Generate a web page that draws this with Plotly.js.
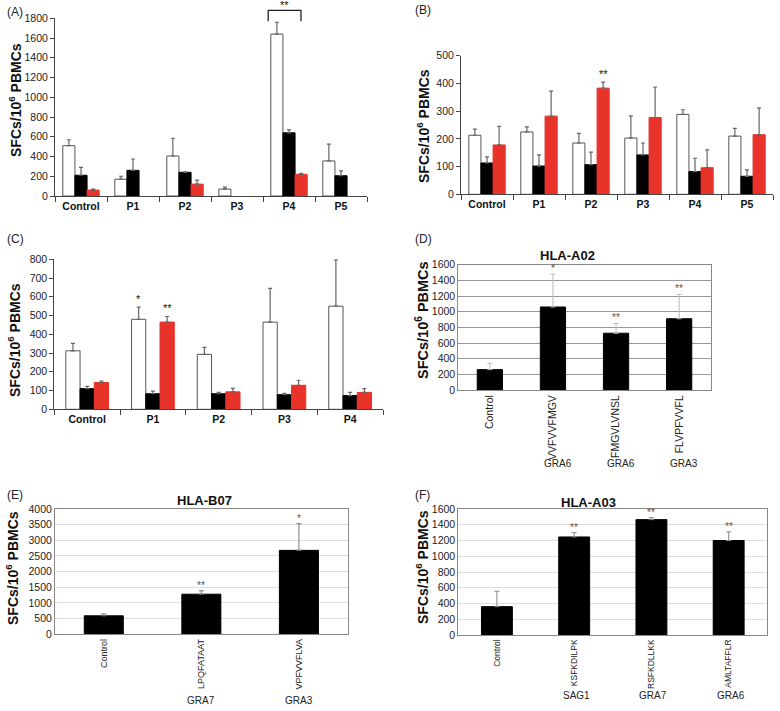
<!DOCTYPE html>
<html>
<head>
<meta charset="utf-8">
<script src="https://cdn.plot.ly/plotly-3.0.1.min.js"></script>
<style>html,body{margin:0;padding:0;background:#fff}#chart{width:780px;height:711px}</style>
</head>
<body>
<div id="chart"></div>
<script>
// ---------- DATA ----------
const catsA = ['Control', 'P1', 'P2', 'P3', 'P4', 'P5'];
const whiteA = [510, 170, 405, 70, 1640, 355];
const whiteAErr = [60, 30, 180, 20, 120, 170];
const blackA = [210, 260, 240, null, 640, 205];
const blackAErr = [80, 115, 5, null, 30, 50];
const redA = [60, null, 120, null, 220, null];
const redAErr = [10, null, 40, null, 10, null];

const catsB = ['Control', 'P1', 'P2', 'P3', 'P4', 'P5'];
const whiteB = [213, 225, 185, 203, 288, 210];
const whiteBErr = [22, 18, 35, 80, 17, 28];
const blackB = [113, 102, 107, 142, 82, 65];
const blackBErr = [22, 40, 45, 43, 48, 23];
const redB = [178, 282, 383, 277, 96, 215];
const redBErr = [67, 90, 22, 110, 64, 97];
const starsBRed = ['', '', '**', '', '', ''];

const catsC = ['Control', 'P1', 'P2', 'P3', 'P4'];
const whiteC = [312, 480, 293, 465, 550];
const whiteCErr = [40, 65, 37, 180, 247];
const blackC = [110, 83, 83, 78, 73];
const blackCErr = [12, 14, 7, 7, 17];
const redC = [143, 465, 93, 128, 90];
const redCErr = [7, 30, 19, 27, 20];
const starsCWhite = ['', '*', '', '', ''];
const starsCRed = ['', '**', '', '', ''];

const catsD = ['Control', 'VVFVVFMGV', 'FMGVLVNSL', 'FLVPFVVFL'];
const valsD = [260, 1060, 725, 910];
const errD = [80, 420, 125, 310];
const protD = ['', 'GRA6', 'GRA6', 'GRA3'];
const starsD = ['', '*', '**', '**'];

const catsE = ['Control', 'LPQFATAAT', 'VPFVVFLVA'];
const valsE = [590, 1280, 2680];
const errE = [60, 110, 850];
const protE = ['', 'GRA7', 'GRA3'];
const starsE = ['', '**', '*'];

const catsF = ['Control', 'KSFKDILPK', 'RSFKDLLKK', 'AMLTAFFLR'];
const valsF = [360, 1245, 1465, 1200];
const errF = [195, 55, 25, 110];
const protF = ['', 'SAG1', 'GRA7', 'GRA6'];
const starsF = ['', '**', '**', '**'];

// ---------- LAYOUT HELPERS ----------
const W = 780, H = 711;
const xd = (a, b) => [a / W, b / W];
const yd = (top, bot) => [1 - bot / H, 1 - top / H];
const FONT = 'Liberation Sans, Arial, sans-serif';
const RED = '#e8332a';

const traces = [];
const annotations = [];
const shapes = [];

function errObj(arr, color, thick, w) {
  return {type: 'data', symmetric: false, array: arr, arrayminus: arr.map(() => 0),
          color: color, thickness: thick, width: w, visible: true};
}

function groupPanel(ax, cats, series, gw, starSets) {
  const w = gw / 3;
  series.forEach((s, i) => {
    traces.push({
      type: 'bar', x: cats, y: s.y, xaxis: 'x' + ax, yaxis: 'y' + ax,
      width: w, offset: -gw / 2 + w * i,
      marker: {color: s.color, line: {color: s.line, width: 1}},
      error_y: errObj(s.err, '#666', 1.2, 2),
      showlegend: false, hoverinfo: 'y'
    });
  });
  starSets.forEach(ss => {
    ss.stars.forEach((t, ci) => {
      if (!t) return;
      const s = series[ss.series];
      annotations.push({
        xref: 'x' + ax, yref: 'y' + ax, x: ci - gw / 2 + w * (ss.series + 0.5),
        y: s.y[ci] + s.err[ci], text: t, showarrow: false, xanchor: 'center', yanchor: 'bottom',
        yshift: 0, font: {family: FONT, size: 11, color: '#111'}
      });
    });
  });
}

function singlePanel(ax, cats, vals, err, stars, starColor, errColor) {
  traces.push({
    type: 'bar', x: cats, y: vals, xaxis: 'x' + ax, yaxis: 'y' + ax, width: 0.4,
    marker: {color: '#000', line: {color: '#000', width: 1}},
    error_y: errObj(err, errColor, 1, 2.5),
    showlegend: false, hoverinfo: 'y'
  });
  stars.forEach((t, ci) => {
    if (!t) return;
    annotations.push({xref: 'x' + ax, yref: 'y' + ax, x: ci, y: vals[ci] + err[ci], text: t,
      showarrow: false, xanchor: 'center', yanchor: 'bottom', yshift: -2,
      font: {family: FONT, size: 10, color: starColor}});
  });
}

const white = {color: '#ffffff', line: '#555'};
const black = {color: '#000000', line: '#000'};
const red = {color: RED, line: RED};

groupPanel('', catsA, [
  Object.assign({y: whiteA, err: whiteAErr}, white),
  Object.assign({y: blackA, err: blackAErr}, black),
  Object.assign({y: redA, err: redAErr}, red)], 0.7, []);
groupPanel('2', catsB, [
  Object.assign({y: whiteB, err: whiteBErr}, white),
  Object.assign({y: blackB, err: blackBErr}, black),
  Object.assign({y: redB, err: redBErr}, red)], 0.7, [{series: 2, stars: starsBRed}]);
groupPanel('3', catsC, [
  Object.assign({y: whiteC, err: whiteCErr}, white),
  Object.assign({y: blackC, err: blackCErr}, black),
  Object.assign({y: redC, err: redCErr}, red)], 0.65,
  [{series: 0, stars: starsCWhite}, {series: 2, stars: starsCRed}]);
singlePanel('4', catsD, valsD, errD, starsD, '#555', '#bbb');
singlePanel('5', catsE, valsE, errE, starsE, '#555', '#777');
singlePanel('6', catsF, valsF, errF, starsF, '#555', '#888');

// axis configs
function plainX(dom, cats) {
  return {domain: dom, type: 'category', categoryarray: cats, showline: true, linecolor: '#444', linewidth: 1,
    ticks: 'outside', tickson: 'boundaries', ticklen: 5, tickcolor: '#444', showgrid: false, zeroline: false,
    tickfont: {family: FONT, size: 10.5, color: '#111', weight: 'bold'}, fixedrange: true};
}
function plainY(dom, max, dt) {
  return {domain: dom, range: [0, max], dtick: dt, showline: true, linecolor: '#444', linewidth: 1,
    ticks: 'outside', ticklen: 4, tickcolor: '#444', showgrid: false, zeroline: false,
    tickfont: {family: FONT, size: 10.5, color: '#222'}, fixedrange: true};
}
function boxX(dom, cats, fs) {
  return {domain: dom, type: 'category', categoryarray: cats, showline: true, mirror: true, linecolor: '#888',
    linewidth: 1, ticks: '', showgrid: false, zeroline: false, tickangle: -90,
    tickfont: {family: FONT, size: fs, color: '#222'}, fixedrange: true};
}
function boxY(dom, max, dt, grid) {
  return {domain: dom, range: [0, max], dtick: dt, showline: true, mirror: true, linecolor: '#888', linewidth: 1,
    ticks: '', showgrid: true, gridcolor: grid, gridwidth: 1, zeroline: false,
    tickfont: {family: FONT, size: 10.5, color: '#222'}, fixedrange: true};
}

const domA = {x: xd(55, 367), y: yd(18.3, 196)};
const domB = {x: xd(461, 773), y: yd(55.7, 194.3)};
const domC = {x: xd(54.3, 383), y: yd(259.3, 409.3)};
const domD = {x: xd(458.3, 710.7), y: yd(264.7, 390)};
const domE = {x: xd(55, 347.7), y: yd(509, 634.3)};
const domF = {x: xd(458.3, 767.3), y: yd(509, 635)};

// bracket over P4 in panel A (domain coordinates derived from category index and values)
const p4 = catsA.indexOf('P4');
const nA = catsA.length, maxA = 1800;
const bx0 = (p4 + 0.5 - 0.4) / nA, bx1 = (p4 + 0.5 + 0.23) / nA;
const byTop = 1880 / maxA, byBot = 1770 / maxA;
shapes.push({type: 'path', xref: 'x domain', yref: 'y domain',
  path: `M ${bx0} ${byBot} L ${bx0} ${byTop} L ${bx1} ${byTop} L ${bx1} ${byBot}`,
  line: {color: '#222', width: 1.3}});
const paperX = (dom, f) => dom[0] + f * (dom[1] - dom[0]);
annotations.push({xref: 'paper', yref: 'paper', x: paperX(domA.x, (bx0 + bx1) / 2),
  y: paperX(domA.y, byTop), xanchor: 'center', yanchor: 'bottom', yshift: -3, text: '**', showarrow: false,
  font: {family: FONT, size: 11, color: '#111'}});

// panel letters
const letters = [['(A)', 5, 12], ['(B)', 413, 10], ['(C)', 5, 239], ['(D)', 413, 239], ['(E)', 5, 495], ['(F)', 413, 495]];
letters.forEach(l => annotations.push({xref: 'paper', yref: 'paper', x: l[1] / W, y: 1 - l[2] / H,
  xanchor: 'left', yanchor: 'middle', text: l[0], showarrow: false, font: {family: FONT, size: 12, color: '#222'}}));

// y titles
const ytitle = 'SFCs/10<sup>6</sup> PBMCs';
const yTitles = [[15, 100, 14], [423, 126, 14], [14, 340, 14], [422, 320, 14.5], [12, 568, 14], [422, 567, 14]];
yTitles.forEach(t => annotations.push({xref: 'paper', yref: 'paper', x: t[0] / W, y: 1 - t[1] / H,
  xanchor: 'center', yanchor: 'middle', textangle: -90, text: '<b>' + ytitle + '</b>', showarrow: false,
  font: {family: FONT, size: t[2], color: '#111'}}));

// panel titles
const pTitles = [['HLA-A02', 567, 255], ['HLA-B07', 204, 500], ['HLA-A03', 588, 502]];
pTitles.forEach(t => annotations.push({xref: 'paper', yref: 'paper', x: t[1] / W, y: 1 - t[2] / H,
  xanchor: 'center', yanchor: 'middle', text: '<b>' + t[0] + '</b>', showarrow: false,
  font: {family: FONT, size: 13, color: '#111'}}));

// protein labels under rotated ticks
function protLabels(ax, prot, ypx, dx) {
  prot.forEach((p, i) => {
    if (!p) return;
    annotations.push({xref: 'x' + ax, yref: 'paper', x: i, y: 1 - ypx / H, xshift: dx,
      xanchor: 'center', yanchor: 'middle',
      text: p, showarrow: false, font: {family: FONT, size: 10, color: '#222'}});
  });
}
protLabels('4', protD, 463, 5);
protLabels('5', protE, 700, 0);
protLabels('6', protF, 695, 2);

const layout = {
  width: W, height: H, margin: {l: 0, r: 0, t: 0, b: 0}, paper_bgcolor: '#fff', plot_bgcolor: 'rgba(0,0,0,0)',
  barmode: 'group', bargap: 0.3, bargroupgap: 0, showlegend: false,
  font: {family: FONT, size: 10, color: '#222'},
  xaxis: plainX(domA.x, catsA), yaxis: plainY(domA.y, 1800, 200),
  xaxis2: plainX(domB.x, catsB), yaxis2: plainY(domB.y, 500, 100),
  xaxis3: plainX(domC.x, catsC), yaxis3: plainY(domC.y, 800, 100),
  xaxis4: boxX(domD.x, catsD, 10.5), yaxis4: boxY(domD.y, 1600, 200, '#999'),
  xaxis5: boxX(domE.x, catsE, 9), yaxis5: boxY(domE.y, 4000, 500, '#ddd'),
  xaxis6: boxX(domF.x, catsF, 8.5), yaxis6: boxY(domF.y, 1600, 200, '#ddd'),
  annotations: annotations, shapes: shapes
};
// anchor axes
['', '2', '3', '4', '5', '6'].forEach(k => {
  layout['xaxis' + k].anchor = 'y' + k;
  layout['yaxis' + k].anchor = 'x' + k;
});

Plotly.newPlot('chart', traces, layout, {staticPlot: true, displayModeBar: false});
</script>
</body>
</html>
